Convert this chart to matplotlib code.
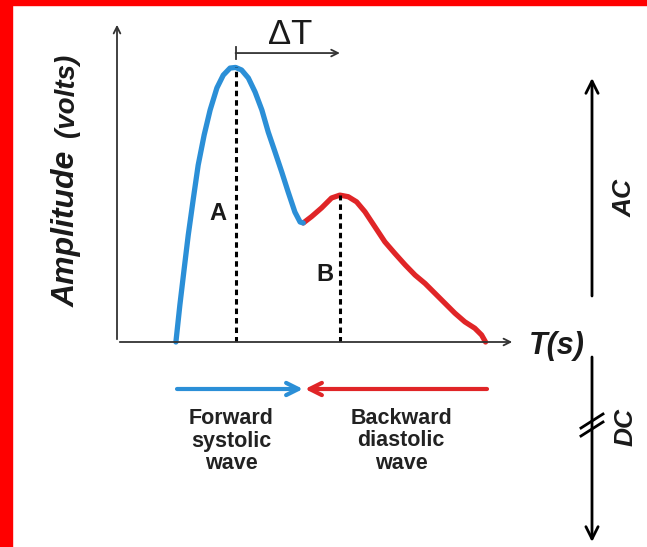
import matplotlib
matplotlib.use("Agg")
import matplotlib.pyplot as plt
from matplotlib.patches import Rectangle, FancyArrowPatch
from matplotlib.lines import Line2D

plt.rcParams['font.family'] = ['Liberation Sans', 'DejaVu Sans']

W, H = 647, 547

# forward (systolic) part of the pulse: time (rel.), amplitude (rel.)
t_forward = [0.148, 0.158, 0.169, 0.179, 0.192, 0.204, 0.219, 0.234, 0.251,
             0.267, 0.284, 0.298, 0.313, 0.330, 0.347, 0.364, 0.380, 0.397,
             0.414, 0.430, 0.447, 0.460, 0.468]
a_forward = [0.0, 0.116, 0.231, 0.334, 0.450, 0.553, 0.647, 0.725, 0.794,
             0.834, 0.856, 0.858, 0.850, 0.825, 0.781, 0.725, 0.656, 0.594,
             0.531, 0.469, 0.406, 0.375, 0.372]

# backward (diastolic) part
t_backward = [0.468, 0.489, 0.514, 0.539, 0.560, 0.581, 0.602, 0.623, 0.648,
              0.673, 0.698, 0.724, 0.749, 0.774, 0.799, 0.824, 0.849, 0.874,
              0.899, 0.916, 0.926]
a_backward = [0.372, 0.392, 0.419, 0.450, 0.459, 0.454, 0.438, 0.407, 0.360,
              0.313, 0.277, 0.241, 0.209, 0.183, 0.152, 0.121, 0.090, 0.063,
              0.043, 0.022, 0.0]

peak_labels = ["A", "B"]

blue = "#2b8fd7"
red = "#e02527"


def px(x, y):
    # pixel position -> figure fraction
    return (x / W, 1 - y / H)


fig = plt.figure(figsize=(W / 100, H / 100), dpi=100)

# red frame on the top and left edges
fig.patches.append(Rectangle((0, 1 - 5 / H), 1, 5 / H, transform=fig.transFigure,
                             color="red", zorder=0))
fig.patches.append(Rectangle((0, 0), 12 / W, 1, transform=fig.transFigure,
                             color="red", zorder=0))

ax = fig.add_axes([117 / W, (H - 342) / H, 398 / W, 320 / H])
ax.set_xlim(0, 1)
ax.set_ylim(0, 1)
ax.axis("off")

ax.plot(t_backward, a_backward, color=red, lw=3.8, solid_capstyle="round",
        solid_joinstyle="round", clip_on=False)
ax.plot(t_forward, a_forward, color=blue, lw=3.8, solid_capstyle="round",
        solid_joinstyle="round", clip_on=False)

# peaks A (systolic) and B (diastolic)
ia = a_forward.index(max(a_forward))
ib = a_backward.index(max(a_backward))
peaks = [(t_forward[ia], a_forward[ia]), (t_backward[ib], a_backward[ib])]
for (tp, ap), lab, lx, ly in zip(peaks, peak_labels, [-0.045, -0.038], [0.40, 0.21]):
    ax.plot([tp, tp], [0, ap], color="black", lw=2.2, ls=(0, (1.8, 1.3)))
    ax.text(tp + lx, ly, lab, fontsize=17, fontweight="bold",
            ha="center", va="center", color="#1a1a1a")

# axes with arrows
arrow_kw = dict(arrowstyle="->", color="#333333", lw=1.3, mutation_scale=12)
ax.annotate("", xy=(0, 1.0), xytext=(0, 0), xycoords="axes fraction",
            arrowprops=arrow_kw, annotation_clip=False)
ax.annotate("", xy=(1.0, 0), xytext=(0, 0), xycoords="axes fraction",
            arrowprops=arrow_kw, annotation_clip=False)

# delta T between the peaks
ax.annotate("", xy=(peaks[1][0], 0.903), xytext=(peaks[0][0], 0.903),
            arrowprops=dict(arrowstyle="->", color="#333333", lw=1.3,
                            mutation_scale=12, shrinkA=0, shrinkB=0),
            annotation_clip=False)
ax.plot([peaks[0][0]] * 2, [0.885, 0.921], color="#333333", lw=1.3, clip_on=False)
fig.text(*px(290, 34), "ΔT", fontsize=25, ha="center", va="center", color="#1a1a1a")

# axis labels
fig.text(*px(67, 229), "Amplitude", fontsize=23, fontweight="bold", style="italic",
         rotation=90, ha="center", va="center", color="#1a1a1a")
fig.text(*px(67, 95), "(volts)", fontsize=20, fontweight="bold", style="italic",
         rotation=90, ha="center", va="center", color="#1a1a1a")
fig.text(*px(557, 346), "T(s)", fontsize=22, fontweight="bold", style="italic",
         ha="center", va="center", color="#1a1a1a")

# wave direction arrows under the time axis
fig.add_artist(FancyArrowPatch(
    px(177, 389), px(303, 389), transform=fig.transFigure, arrowstyle="->",
    color=blue, lw=3, mutation_scale=22, shrinkA=0, shrinkB=0))
fig.add_artist(FancyArrowPatch(
    px(487, 389), px(305, 389), transform=fig.transFigure, arrowstyle="->",
    color=red, lw=3, mutation_scale=22, shrinkA=0, shrinkB=0))
fig.text(*px(231, 441), "Forward\nsystolic\nwave", fontsize=15.5, fontweight="bold",
         ha="center", va="center", linespacing=1.12, color="#222222")
fig.text(*px(401, 441), "Backward\ndiastolic\nwave", fontsize=15.5, fontweight="bold",
         ha="center", va="center", linespacing=1.12, color="#222222")

# AC / DC scale on the right
fig.add_artist(FancyArrowPatch(
    px(592, 296), px(592, 78), transform=fig.transFigure, arrowstyle="->",
    color="black", lw=2, mutation_scale=22, shrinkA=0, shrinkB=0))
fig.add_artist(FancyArrowPatch(
    px(592, 357), px(592, 542), transform=fig.transFigure, arrowstyle="->",
    color="black", lw=2, mutation_scale=22, shrinkA=0, shrinkB=0))
for dy in (-4, 4):
    fig.add_artist(Line2D(
        [581 / W, 603 / W], [1 - (432 + dy) / H, 1 - (418 + dy) / H],
        transform=fig.transFigure, color="black", lw=2))
fig.text(*px(625, 198), "AC", fontsize=19, fontweight="bold", style="italic",
         rotation=90, ha="center", va="center", color="#1a1a1a")
fig.text(*px(626, 427), "DC", fontsize=19, fontweight="bold", style="italic",
         rotation=90, ha="center", va="center", color="#1a1a1a")

fig.savefig("out.png", dpi=100, facecolor="white")
